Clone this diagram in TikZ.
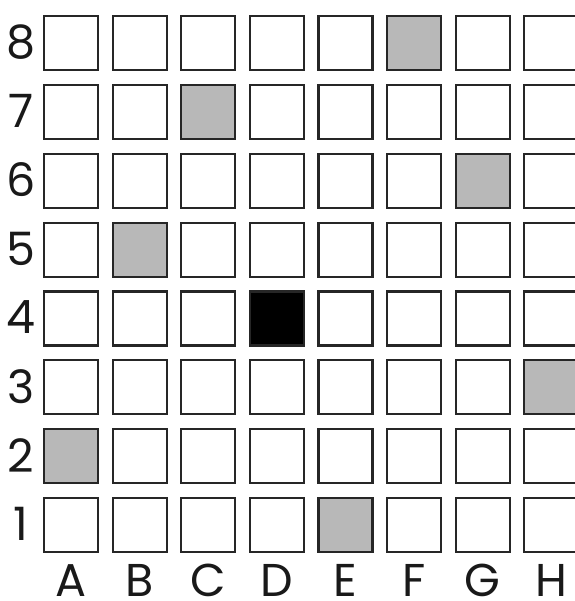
\documentclass[tikz,border=0pt]{standalone}
\usepackage{fontspec}
\setmainfont{Poppins}
\setsansfont{Poppins}
\begin{document}
\begin{tikzpicture}[x=1pt,y=1pt,
  cell/.style={draw=black!85,line width=2.2pt,minimum width=54pt,minimum height=54pt,inner sep=0pt,anchor=north west,fill=white},
  shade/.style={fill=black!28},
  solid/.style={fill=black},
  lab/.style={font=\fontsize{46}{46}\selectfont\sffamily,inner sep=0pt,text=black!90}]
\useasboundingbox (0,0) rectangle (574,601);
\foreach \c [count=\i from 0] in {A,B,C,D,E,F,G,H}{
  \foreach \r in {1,...,8}{
    \pgfmathsetmacro{\xx}{43+68.6*\i}
    \pgfmathsetmacro{\yy}{601-15-68.85*(8-\r)}
    \node[cell] (\c\r) at (\xx,\yy) {};
  }
  \path (\c1.south) ++(0,-43) coordinate (b\c);
  \node[lab,anchor=base] (col\c) at (b\c) {\c};
}
\foreach \n in {F8,C7,G6,B5,A2,H3,E1}{\node[cell,shade] at (\n.north west) {};}
\node[cell,solid] at (D4.north west) {};
\foreach \r in {1,...,8}{
  \node[lab] (row\r) at ([xshift=-22pt,yshift=1pt]A\r.west) {\r};
}
\end{tikzpicture}
\end{document}
